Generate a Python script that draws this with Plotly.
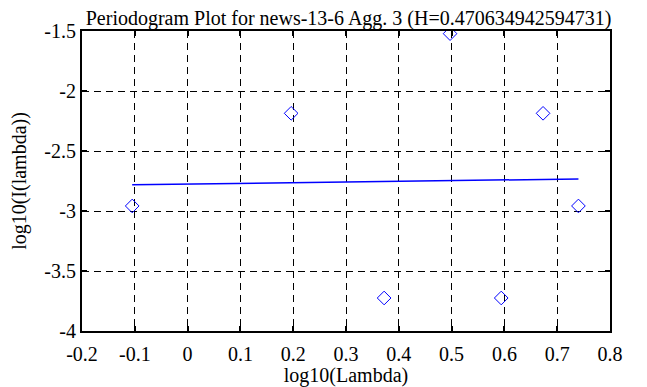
import numpy as np
import plotly.graph_objects as go

# Data
log_lambda = [-0.1049, 0.1961, 0.3722, 0.4971, 0.5940, 0.6732, 0.7402]
log_I = [-2.958, -2.186, -3.725, -1.522, -3.725, -2.186, -2.958]

x_ticks = [-0.2, -0.1, 0.0, 0.1, 0.2, 0.3, 0.4, 0.5, 0.6, 0.7, 0.8]
x_tick_labels = ["-0.2", "-0.1", "0", "0.1", "0.2", "0.3", "0.4", "0.5", "0.6", "0.7", "0.8"]
y_ticks = [-4.0, -3.5, -3.0, -2.5, -2.0, -1.5]
y_tick_labels = ["-4", "-3.5", "-3", "-2.5", "-2", "-1.5"]

title_text = "Periodogram Plot for news-13-6 Agg. 3 (H=0.470634942594731)"

# Least-squares fit line
slope, intercept = np.polyfit(log_lambda, log_I, 1)
fit_x = [min(log_lambda), max(log_lambda)]
fit_y = [intercept + slope * v for v in fit_x]

FONT = "Liberation Serif, Times New Roman, serif"
FS = 20

fig = go.Figure()
fig.add_trace(go.Scatter(
    x=log_lambda, y=log_I, mode="markers",
    marker=dict(symbol="diamond-open", size=10.5, color="#0000ff", line=dict(width=1, color="#0000ff")),
    showlegend=False,
))
fig.add_trace(go.Scatter(
    x=fit_x, y=fit_y, mode="lines",
    line=dict(color="#0000ff", width=1.5),
    showlegend=False,
))

axis_common = dict(
    showline=True, linecolor="black", linewidth=2, mirror="ticks",
    ticks="inside", ticklen=5, tickwidth=1.5, tickcolor="black",
    showgrid=True, gridcolor="black", gridwidth=1, griddash="7px,5px",
    zeroline=False, automargin=False,
    tickfont=dict(family=FONT, size=FS, color="black"),
)

fig.update_xaxes(
    range=[-0.2, 0.8], tickmode="array", tickvals=x_ticks, ticktext=x_tick_labels,
    ticklabelstandoff=4,
    title=dict(text="log10(Lambda)", font=dict(family=FONT, size=FS, color="black"), standoff=0),
    **axis_common,
)
fig.update_yaxes(
    range=[-4, -1.5], tickmode="array", tickvals=y_ticks, ticktext=y_tick_labels,
    title=dict(text="log10(I(lambda))", font=dict(family=FONT, size=FS, color="black"), standoff=23),
    **axis_common,
)

fig.update_layout(
    width=639, height=379,
    margin=dict(l=74, r=37, t=23, b=56),
    paper_bgcolor="white", plot_bgcolor="white",
    title=dict(text=title_text, x=0.533, xanchor="center", xref="container",
               y=0.993, yanchor="top", yref="container", pad=dict(t=0, b=0),
               font=dict(family=FONT, size=FS, color="black")),
)

fig.write_html("out.html")
